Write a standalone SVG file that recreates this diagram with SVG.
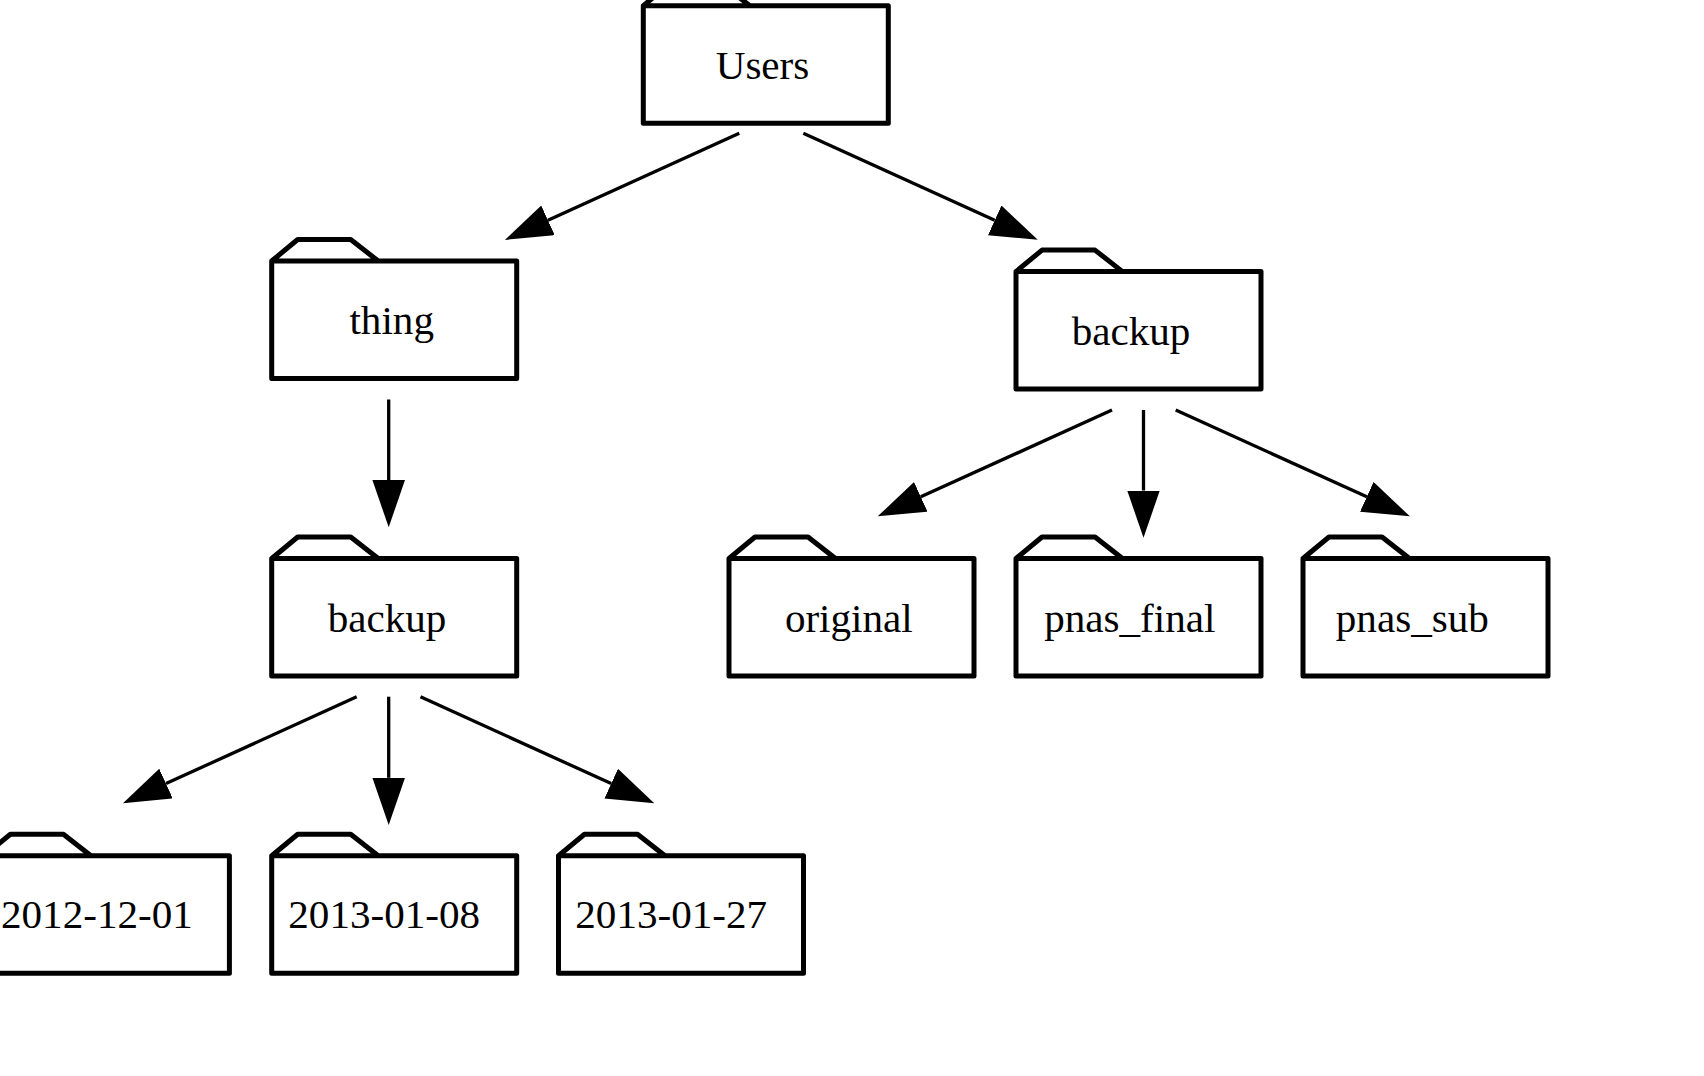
<svg xmlns="http://www.w3.org/2000/svg" width="1704" height="1076" viewBox="0 0 1704 1076">
<style>
.b{fill:none;stroke:#000;stroke-width:5;stroke-linejoin:round}
.l{stroke:#000;stroke-width:3.3;fill:none;marker-end:url(#a)}
text{font-family:"Liberation Serif","Times New Roman",serif;font-size:41.1px;fill:#000;text-anchor:middle}
</style>
<defs>
<marker id="a" markerUnits="userSpaceOnUse" markerWidth="50" markerHeight="34" refX="0" refY="16" orient="auto"><path d="M0,-0.3L47.3,16L0,32.3z" fill="#000"/></marker>
<path id="f" class="b" d="M0,0L26,-21.5L79,-21.5L106.5,0M0,0H245V117.5H0z"/>
</defs>
<rect width="1704" height="1076" fill="#fff"/>
<g id="connectors">
<line class="l" x1="739.3" y1="133.3" x2="548" y2="220.3"/>
<line class="l" x1="803.3" y1="133.3" x2="994.7" y2="220.3"/>
<line class="l" x1="388.7" y1="399.5" x2="388.7" y2="480"/>
<line class="l" x1="1112" y1="410" x2="920.8" y2="496.8"/>
<line class="l" x1="1143.5" y1="410" x2="1143.5" y2="490.5"/>
<line class="l" x1="1175.7" y1="410" x2="1366.8" y2="496.8"/>
<line class="l" x1="356.7" y1="696.7" x2="166" y2="783.6"/>
<line class="l" x1="388.7" y1="696.7" x2="388.7" y2="777.8"/>
<line class="l" x1="420.5" y1="696.7" x2="611.2" y2="783.6"/>
</g>
<g id="n-users"><use href="#f" x="643.3" y="5.7"/><text x="762.5" y="79">Users</text></g>
<g id="n-thing"><use href="#f" x="271.7" y="261"/><text x="391.7" y="334.2">thing</text></g>
<g id="n-backup-right"><use href="#f" x="1016" y="271.6"/><text x="1131" y="344.8">backup</text></g>
<g id="n-backup-left"><use href="#f" x="271.7" y="558.5"/><text x="387" y="632">backup</text></g>
<g id="n-original"><use href="#f" x="729" y="558.5"/><text x="848.8" y="632">original</text></g>
<g id="n-pnas-final"><use href="#f" x="1016" y="558.5"/><text x="1129.8" y="632">pnas_final</text></g>
<g id="n-pnas-sub"><use href="#f" x="1303" y="558.5"/><text x="1412.3" y="632">pnas_sub</text></g>
<g id="n-2012-12-01"><use href="#f" x="-15.6" y="855.7"/><text x="96.9" y="928.4">2012-12-01</text></g>
<g id="n-2013-01-08"><use href="#f" x="271.7" y="855.7"/><text x="384.2" y="928.4">2013-01-08</text></g>
<g id="n-2013-01-27"><use href="#f" x="558.5" y="855.7"/><text x="671.2" y="928.4">2013-01-27</text></g>
</svg>
